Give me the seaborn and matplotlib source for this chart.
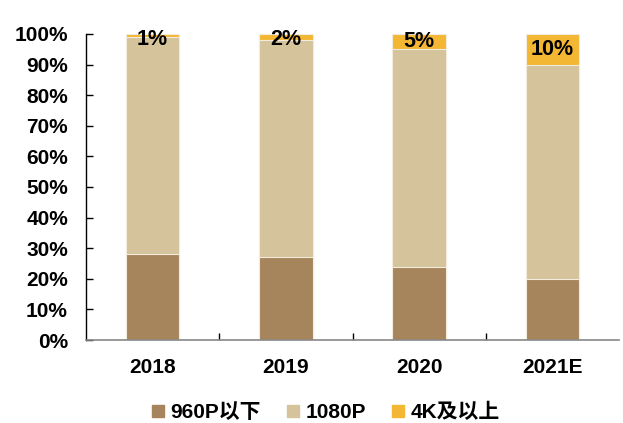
import matplotlib
matplotlib.use("Agg")
import matplotlib.pyplot as plt
import seaborn as sns
import pandas as pd
from matplotlib.lines import Line2D

years = ["2018", "2019", "2020", "2021E"]
share_960p = [28, 27, 24, 20]
share_1080p = [71, 71, 71, 70]
share_4k = [1, 2, 5, 10]
series_names = ["960P以下", "1080P", "4K及以上"]
colors = ["#A6845C", "#D4C39B", "#F4B733"]

sns.set_theme(style="white")
plt.rcParams["font.family"] = ["Liberation Sans", "Noto Sans CJK SC", "DejaVu Sans"]
plt.rcParams["font.weight"] = "bold"
plt.rcParams["text.color"] = "black"
plt.rcParams["xtick.color"] = "black"
plt.rcParams["ytick.color"] = "black"

fig = plt.figure(figsize=(6.23, 4.23), dpi=100)
ax = fig.add_axes([86 / 623, 83 / 423, 533 / 623, 306 / 423])

# cumulative stacks, drawn tallest first so each lower layer sits on top
cum1 = share_960p
cum2 = [a + b for a, b in zip(share_960p, share_1080p)]
cum3 = [a + b + c for a, b, c in zip(share_960p, share_1080p, share_4k)]
df = pd.DataFrame({"year": years, "c1": cum1, "c2": cum2, "c3": cum3})

for col, color in zip(["c3", "c2", "c1"], colors[::-1]):
    sns.barplot(data=df, x="year", y=col, color=color, width=0.4,
                edgecolor="#F3ECDD", linewidth=0.8, saturation=1, ax=ax)

# value labels for the top segment
for i, v in enumerate(share_4k):
    y = cum3[i] - max(v / 2, 1.8)
    ax.text(i, y, f"{v}%", ha="center", va="center", fontsize=15.5,
            fontweight="bold", color="black")

ax.set_xlim(-0.5, len(years) - 0.5)
ax.set_ylim(0, 100)
ax.set_yticks(range(0, 101, 10))
ax.set_yticklabels([f"{t}%" for t in range(0, 101, 10)], fontsize=15, fontweight="bold")
ax.set_xticks(range(len(years)))
ax.set_xticklabels(years, fontsize=15, fontweight="bold")
ax.tick_params(axis="x", length=0, pad=13, labelcolor="black")
ax.tick_params(axis="y", direction="in", length=5, width=1, color="black", pad=13,
               left=True, labelcolor="black")
ax.set_xticks([0.5, 1.5, 2.5], minor=True)
ax.tick_params(axis="x", which="minor", direction="in", length=5, width=1, color="black", bottom=True)
ax.set_xlabel("")
ax.set_ylabel("")
for s in ["top", "right"]:
    ax.spines[s].set_visible(False)
ax.spines["left"].set_color("black")
ax.spines["left"].set_linewidth(1)
ax.spines["bottom"].set_color("#888888")
ax.spines["bottom"].set_linewidth(1.2)
ax.grid(False)

handles = [Line2D([], [], marker="s", linestyle="none", markersize=8.5,
                  markerfacecolor=c, markeredgecolor=c) for c in colors]
fig.legend(handles, series_names, loc="center", bbox_to_anchor=(0.522, 0.025),
           ncol=3, frameon=False, handlelength=0.7, handletextpad=0.25,
           columnspacing=1.2, prop={"size": 15, "weight": "bold"})

fig.savefig("out.png", dpi=100)
